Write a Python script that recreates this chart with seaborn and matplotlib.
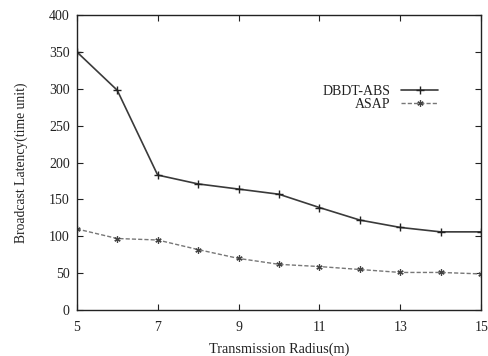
import pandas as pd
import matplotlib
matplotlib.use("Agg")
import matplotlib.pyplot as plt
import seaborn as sns

# Data
radius = [5, 6, 7, 8, 9, 10, 11, 12, 13, 14, 15]
dbdt_abs = [350, 298, 183, 171, 164, 157, 139, 122, 112, 106, 106]
asap = [110, 97, 95, 82, 70, 62, 59, 55, 51, 51, 49]
x_ticks = [5, 7, 9, 11, 13, 15]
y_ticks = [0, 50, 100, 150, 200, 250, 300, 350, 400]

sns.set_style("ticks")
plt.rcParams['font.family'] = ['Liberation Serif', 'DejaVu Serif']

fig = plt.figure(figsize=(4.89, 3.56), dpi=100)
ax = fig.add_axes([0.157, 0.129, 0.827, 0.829])

sns.lineplot(x=radius, y=dbdt_abs, ax=ax, color="#3a3a3a", lw=1.2,
             marker="+", markersize=6, markeredgewidth=1.0, markeredgecolor="#222222",
             label="DBDT-ABS")
sns.lineplot(x=radius, y=asap, ax=ax, color="#777777", lw=1.0, linestyle=(0, (3, 1.5)),
             marker=(6, 2, 0), markersize=4.5, markeredgewidth=0.9, markeredgecolor="#444444",
             label="ASAP")

ax.set_xlim(5, 15)
ax.set_ylim(0, 400)
ax.set_xticks(x_ticks)
ax.set_yticks(y_ticks)
ax.tick_params(direction="in", top=True, right=True, length=4, width=0.8,
               labelsize=10, colors="#222222", pad=5)
ax.tick_params(axis="x", pad=8)
for s in ax.spines.values():
    s.set_linewidth(1.0)
    s.set_color("#222222")

ax.set_xlabel("Transmission Radius(m)", fontsize=10.3, color="#222222", labelpad=6)
ax.set_ylabel("Broadcast Latency(time unit)", fontsize=9.8, color="#222222", labelpad=15)

leg = ax.legend(loc="upper right", bbox_to_anchor=(0.925, 0.805), frameon=False,
                markerfirst=False, handlelength=2.7, handletextpad=0.75,
                labelspacing=0.0, fontsize=10)
for t in leg.get_texts():
    t.set_ha("right")
    t.set_color("#222222")
leg._legend_box.align = "right"

fig.savefig("out.png", dpi=100)
